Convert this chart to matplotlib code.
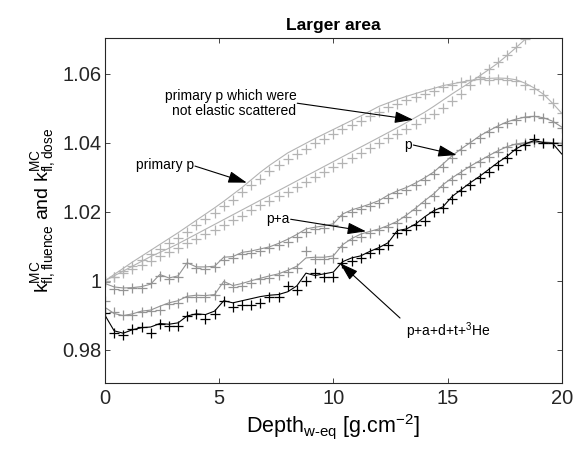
import numpy as np
import matplotlib
matplotlib.use('Agg')
import matplotlib.pyplot as plt

''' Figure format '''
plt.rc('font', size=10, family='Liberation Sans')
plt.rc('axes', edgecolor='#262626', linewidth=0.8, labelcolor='k')
plt.rcParams['mathtext.default'] = 'regular'
plt.rcParams['xtick.top'] = True
plt.rcParams['ytick.right'] = True
plt.rcParams['xtick.direction'] = 'in'
plt.rcParams['ytick.direction'] = 'in'
plt.rcParams['xtick.color'] = '#262626'
plt.rcParams['ytick.color'] = '#262626'

''' Data (read from the figure) '''
depth = np.linspace(0, 20, 51)

# primary p
prim_line = [1.0000, 1.0018, 1.0036, 1.0054, 1.0071, 1.0088, 1.0105, 1.0122, 1.0139, 1.0157,
             1.0175, 1.0193, 1.0211, 1.0230, 1.0250, 1.0270, 1.0292, 1.0314, 1.0334, 1.0352,
             1.0370, 1.0384, 1.0398, 1.0412, 1.0425, 1.0438, 1.0451, 1.0464, 1.0477, 1.0491,
             1.0505, 1.0515, 1.0525, 1.0534, 1.0542, 1.0550, 1.0557, 1.0565, 1.0570, 1.0575,
             1.0580, 1.0583, 1.0586, 1.0587, 1.0586, 1.0582, 1.0572, 1.0558, 1.0540, 1.0514,
             1.0485]
prim_mark = [1.0000, 1.0012, 1.0028, 1.0044, 1.0060, 1.0076, 1.0092, 1.0108, 1.0124, 1.0142,
             1.0160, 1.0178, 1.0196, 1.0216, 1.0234, 1.0256, 1.0276, 1.0296, 1.0318, 1.0336,
             1.0352, 1.0368, 1.0382, 1.0398, 1.0410, 1.0424, 1.0438, 1.0450, 1.0462, 1.0478,
             1.0490, 1.0502, 1.0512, 1.0522, 1.0532, 1.0540, 1.0550, 1.0560, 1.0568, 1.0576,
             1.0580, 1.0584, 1.0582, 1.0584, 1.0582, 1.0578, 1.0568, 1.0556, 1.0538, 1.0516,
             1.0486]

# primary p which were not elastic scattered
nel_line = [1.0000, 1.0014, 1.0028, 1.0042, 1.0056, 1.0070, 1.0082, 1.0094, 1.0107, 1.0121,
            1.0135, 1.0149, 1.0163, 1.0177, 1.0191, 1.0205, 1.0219, 1.0233, 1.0247, 1.0261,
            1.0275, 1.0289, 1.0303, 1.0317, 1.0331, 1.0345, 1.0359, 1.0373, 1.0387, 1.0401,
            1.0415, 1.0429, 1.0443, 1.0458, 1.0473, 1.0488, 1.0505, 1.0523, 1.0541, 1.0558,
            1.0575, 1.0593, 1.0611, 1.0630, 1.0652, 1.0675, 1.0699, 1.0723, 1.0747, 1.0771,
            1.0795]
nel_mark = [1.0000, 1.0010, 1.0022, 1.0034, 1.0046, 1.0058, 1.0072, 1.0084, 1.0096, 1.0108,
            1.0122, 1.0134, 1.0148, 1.0162, 1.0176, 1.0188, 1.0204, 1.0218, 1.0230, 1.0244,
            1.0258, 1.0272, 1.0286, 1.0300, 1.0314, 1.0328, 1.0342, 1.0356, 1.0370, 1.0384,
            1.0398, 1.0412, 1.0426, 1.0440, 1.0454, 1.0470, 1.0484, 1.0500, 1.0520, 1.0542,
            1.0566, 1.0590, 1.0612, 1.0632, 1.0654, 1.0676, 1.0700, 1.0722, 1.0746, 1.0770,
            1.0794]

# p
p_line = [0.9992, 0.9982, 0.9979, 0.9980, 0.9983, 0.9990, 1.0018, 1.0008, 1.0014, 1.0052,
          1.0040, 1.0040, 1.0042, 1.0068, 1.0070, 1.0082, 1.0086, 1.0092, 1.0098, 1.0108,
          1.0120, 1.0134, 1.0150, 1.0155, 1.0159, 1.0165, 1.0193, 1.0205, 1.0213, 1.0222,
          1.0232, 1.0248, 1.0260, 1.0270, 1.0283, 1.0298, 1.0315, 1.0338, 1.0362, 1.0382,
          1.0400, 1.0419, 1.0434, 1.0448, 1.0460, 1.0468, 1.0474, 1.0476, 1.0472, 1.0462,
          1.0445]
p_mark = [0.9995, 0.9976, 0.9972, 0.9979, 0.9980, 0.9994, 1.0013, 1.0006, 1.0010, 1.0050,
          1.0036, 1.0035, 1.0040, 1.0060, 1.0066, 1.0078, 1.0080, 1.0086, 1.0094, 1.0104,
          1.0112, 1.0128, 1.0142, 1.0150, 1.0152, 1.0160, 1.0186, 1.0198, 1.0208, 1.0215,
          1.0226, 1.0240, 1.0254, 1.0264, 1.0276, 1.0292, 1.0310, 1.0330, 1.0356, 1.0378,
          1.0398, 1.0414, 1.0430, 1.0444, 1.0456, 1.0466, 1.0474, 1.0476, 1.0470, 1.0460,
          1.0442]

# p+a
pa_line = [0.9923, 0.9905, 0.9899, 0.9904, 0.9912, 0.9915, 0.9926, 0.9936, 0.9942, 0.9955,
           0.9958, 0.9957, 0.9960, 0.9998, 0.9986, 0.9992, 1.0000, 1.0007, 1.0014, 1.0020,
           1.0030, 1.0042, 1.0066, 1.0068, 1.0068, 1.0072, 1.0104, 1.0122, 1.0135, 1.0143,
           1.0150, 1.0160, 1.0172, 1.0190, 1.0210, 1.0232, 1.0252, 1.0278, 1.0298, 1.0315,
           1.0332, 1.0347, 1.0362, 1.0376, 1.0388, 1.0396, 1.0400, 1.0402, 1.0402, 1.0400,
           1.0398]
pa_mark = [0.9942, 0.9910, 0.9902, 0.9902, 0.9910, 0.9913, 0.9916, 0.9932, 0.9936, 0.9952,
           0.9954, 0.9952, 0.9958, 0.9990, 0.9982, 0.9986, 0.9992, 1.0004, 1.0008, 1.0016,
           1.0026, 1.0036, 1.0086, 1.0064, 1.0064, 1.0066, 1.0098, 1.0118, 1.0128, 1.0138,
           1.0146, 1.0156, 1.0166, 1.0184, 1.0204, 1.0226, 1.0246, 1.0272, 1.0292, 1.0310,
           1.0328, 1.0344, 1.0358, 1.0374, 1.0388, 1.0396, 1.0400, 1.0402, 1.0400, 1.0398,
           1.0398]

# p+a+d+t+3He
all_line = [0.9900, 0.9855, 0.9848, 0.9858, 0.9864, 0.9866, 0.9876, 0.9874, 0.9878, 0.9898,
            0.9904, 0.9902, 0.9912, 0.9942, 0.9936, 0.9942, 0.9948, 0.9954, 0.9958, 0.9960,
            0.9968, 0.9985, 1.0022, 1.0015, 1.0020, 1.0025, 1.0055, 1.0066, 1.0072, 1.0085,
            1.0096, 1.0110, 1.0145, 1.0150, 1.0164, 1.0185, 1.0203, 1.0214, 1.0244, 1.0264,
            1.0284, 1.0302, 1.0322, 1.0342, 1.0360, 1.0382, 1.0396, 1.0406, 1.0400, 1.0398,
            1.0367]
all_mark = [0.9906, 0.9850, 0.9843, 0.9860, 0.9866, 0.9850, 0.9876, 0.9870, 0.9870, 0.9898,
            0.9904, 0.9890, 0.9904, 0.9942, 0.9924, 0.9930, 0.9930, 0.9936, 0.9952, 0.9952,
            0.9984, 0.9972, 0.9998, 1.0022, 1.0012, 1.0012, 1.0050, 1.0058, 1.0066, 1.0080,
            1.0092, 1.0104, 1.0138, 1.0148, 1.0160, 1.0172, 1.0200, 1.0210, 1.0236, 1.0260,
            1.0278, 1.0298, 1.0316, 1.0336, 1.0356, 1.0378, 1.0394, 1.0410, 1.0398, 1.0398,
            1.0392]

lightGrey = (0.70, 0.70, 0.70)
midGrey = (0.58, 0.58, 0.58)

''' Plot '''
fig = plt.figure(figsize=(5.81, 4.57), dpi=100)
ax = fig.add_axes([0.1807, 0.1613, 0.7861, 0.7549])

curves = [(prim_line, prim_mark, lightGrey),
          (nel_line, nel_mark, lightGrey),
          (p_line, p_mark, midGrey),
          (pa_line, pa_mark, midGrey),
          (all_line, all_mark, 'k')]

for line, mark, col in curves:
    ax.plot(depth, line, '-', color=col, lw=0.8)
    ax.plot(depth, mark, '+', color=col, ms=7.5, mew=0.9)

ax.set_xlim(0, 20)
ax.set_ylim(0.9703, 1.0702)
ax.set_xticks([0, 5, 10, 15, 20])
ax.set_yticks([0.98, 1.0, 1.02, 1.04, 1.06])
ax.set_yticklabels(['0.98', '1', '1.02', '1.04', '1.06'])
ax.tick_params(length=3.5, width=0.6, labelsize=14.5)
ax.tick_params(axis='y', pad=2.5)
ax.tick_params(axis='x', pad=4)

ax.set_title('Larger area', fontsize=12.5, fontweight='bold', pad=6)
ax.set_xlabel('Depth$_{w\u2010eq}$ [g.cm$^{-2}$]', fontsize=15.5, labelpad=3)
ax.set_ylabel('$k^{MC}_{fl,fluence}$ and $k^{MC}_{fl,dose}$', fontsize=14, labelpad=3)

# annotations: text labels and arrows from tail to tip
arrowSty = dict(arrowstyle='-|>,head_length=0.95,head_width=0.3', color='k',
                lw=0.8, shrinkA=0, shrinkB=0, mutation_scale=12)
txtSize = 10

ax.text(8.38, 1.0512, 'primary p which were\nnot elastic scattered', ha='right', va='center',
        fontsize=txtSize, linespacing=1.1)
ax.annotate('', xy=(13.50, 1.0466), xytext=(8.42, 1.0514), arrowprops=arrowSty)

ax.text(3.90, 1.0334, 'primary p', ha='right', va='center', fontsize=txtSize)
ax.annotate('', xy=(6.21, 1.0284), xytext=(3.94, 1.0332), arrowprops=arrowSty)

ax.text(13.45, 1.0392, 'p', ha='right', va='center', fontsize=txtSize)
ax.annotate('', xy=(15.40, 1.0364), xytext=(13.50, 1.0393), arrowprops=arrowSty)

ax.text(8.10, 1.0180, 'p+a', ha='right', va='center', fontsize=txtSize)
ax.annotate('', xy=(11.43, 1.0143), xytext=(8.13, 1.0178), arrowprops=arrowSty)

ax.text(13.18, 0.9853, 'p+a+d+t+$^{3}$He', ha='left', va='center', fontsize=txtSize)
ax.annotate('', xy=(10.29, 1.0051), xytext=(12.92, 0.9892), arrowprops=arrowSty)

fig.savefig('out.png', dpi=100)
